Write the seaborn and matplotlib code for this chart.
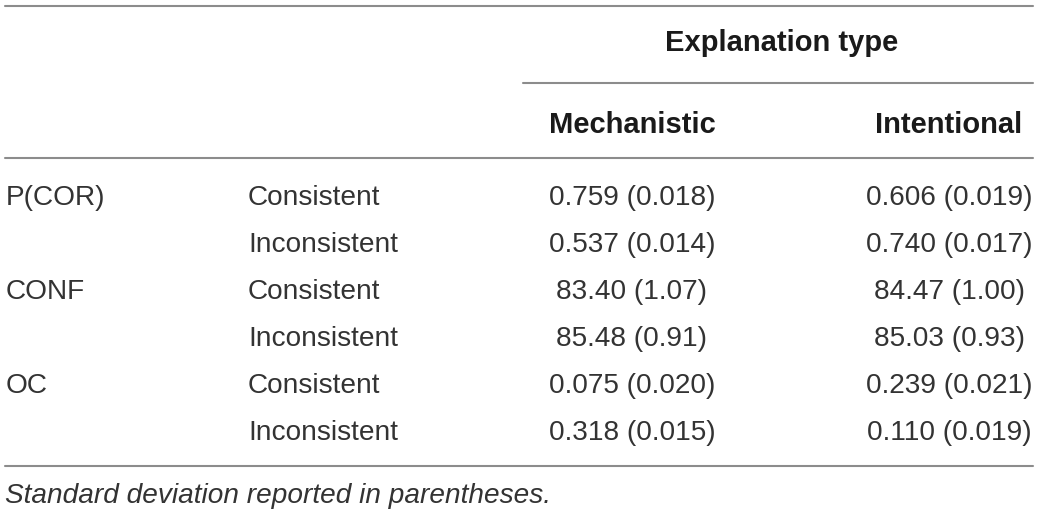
import matplotlib
matplotlib.use("Agg")
import matplotlib.pyplot as plt
import seaborn as sns

# table contents
measures = ["P(COR)", "CONF", "OC"]
conditions = ["Consistent", "Inconsistent"]
col_group = "Explanation type"
col_names = ["Mechanistic", "Intentional"]
mechanistic = ["0.759 (0.018)", "0.537 (0.014)", "83.40 (1.07)",
               "85.48 (0.91)", "0.075 (0.020)", "0.318 (0.015)"]
intentional = ["0.606 (0.019)", "0.740 (0.017)", "84.47 (1.00)",
               "85.03 (0.93)", "0.239 (0.021)", "0.110 (0.019)"]
footnote = "Standard deviation reported in parentheses."

sns.set_theme(style="white")
plt.rcParams['font.family'] = ['Liberation Sans', 'DejaVu Sans']

W, H = 1039, 515
fig = plt.figure(figsize=(W / 100, H / 100), dpi=100)
ax = fig.add_axes([0, 0, 1, 1])
ax.set_xlim(0, W)
ax.set_ylim(H, 0)
ax.axis('off')

txt = '#333333'
head = '#1a1a1a'
rule = '#8c8c8c'
fs = 20.2
hfs = 21

# column layout (pixels)
x_measure, x_cond = 6, 248
x_cols = [632, 949]

# rules
ax.plot([5, 1033], [6, 6], color=rule, lw=1.5)
ax.plot([523, 1033], [82.5, 82.5], color=rule, lw=1.5)
ax.plot([5, 1033], [158, 158], color=rule, lw=1.5)
ax.plot([5, 1033], [466, 466], color=rule, lw=1.5)

# header
ax.text(782, 51, col_group, ha='center', va='baseline', fontsize=hfs,
        fontweight='bold', color=head)
for x, name in zip(x_cols, col_names):
    ax.text(x, 133, name, ha='center', va='baseline', fontsize=hfs,
            fontweight='bold', color=head)

# body
row_y0, row_h = 205, 47
for i in range(len(mechanistic)):
    y = row_y0 + i * row_h
    if i % 2 == 0:
        ax.text(x_measure, y, measures[i // 2], ha='left', va='baseline',
                fontsize=fs, color=txt)
    ax.text(x_cond, y, conditions[i % 2], ha='left', va='baseline',
            fontsize=fs, color=txt)
    ax.text(x_cols[0], y, mechanistic[i], ha='center', va='baseline',
            fontsize=fs, color=txt)
    ax.text(x_cols[1], y, intentional[i], ha='center', va='baseline',
            fontsize=fs, color=txt)

ax.text(5, 503, footnote, ha='left', va='baseline', fontsize=fs,
        style='italic', color=txt)

fig.savefig('out.png', dpi=100)
plt.close(fig)
